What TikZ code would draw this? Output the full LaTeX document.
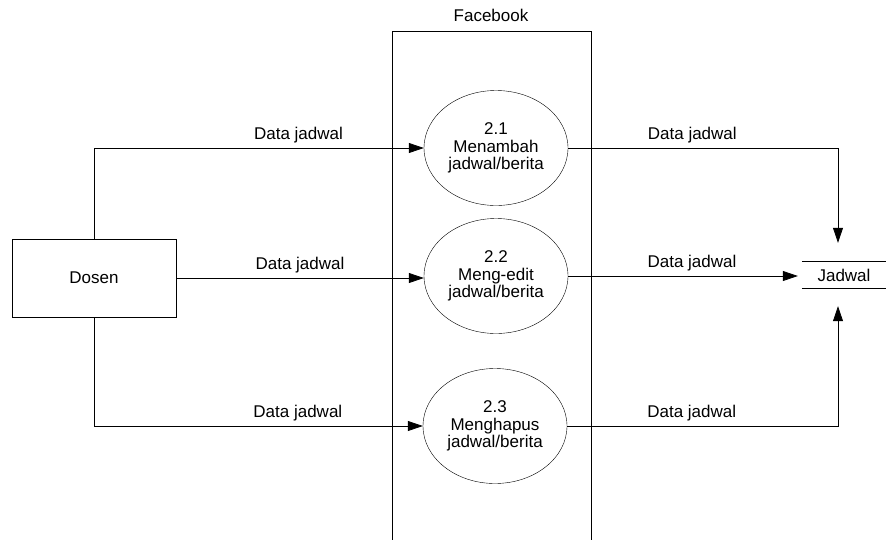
\documentclass[tikz,border=0pt]{standalone}
\usepackage{fontspec}
\setmainfont{Liberation Sans}
\usetikzlibrary{arrows.meta, positioning, shapes.geometric, calc}

\begin{document}
\begin{tikzpicture}[
    x=1pt, y=-1pt,
    every node/.style={font=\fontsize{17}{17.5}\selectfont},
    entity/.style={draw, minimum width=164pt, minimum height=78pt, inner sep=0pt},
    process/.style={draw, ellipse, minimum width=144pt, minimum height=115pt, inner sep=0pt, align=center},
    store/.style={minimum width=84pt, minimum height=26pt, inner sep=0pt},
    flowlabel/.style={above=1pt},
    arrow/.style={-{Triangle[length=15pt, width=10pt]}, line width=0.7pt},
]
\useasboundingbox (0,0) rectangle (886,539);

% Boundary
\draw[line width=0.7pt] (392,31) rectangle (591,560);
\node (fb) at (491,15) {Facebook};

% External entity
\node[entity] (dosen) at (94,278) {Dosen};

% Processes
\node[process] (p1) at (496,148) {2.1\\Menambah\\jadwal/berita};
\node[process] (p2) at (496,276) {2.2\\Meng-edit\\jadwal/berita};
\node[process] (p3) at (495,426) {2.3\\Menghapus\\jadwal/berita};

% Data store
\node[store] (jadwal) at (844,275) {\raisebox{-3pt}{Jadwal}};
\draw[line width=0.7pt] (jadwal.north west) -- (jadwal.north east);
\draw[line width=0.7pt] (jadwal.south west) -- (jadwal.south east);

% Flows from Dosen
\draw[arrow] (dosen.north) |- (p1) node[flowlabel, pos=0.81] {Data jadwal};
\draw[arrow] (dosen.east) -- (dosen.east -| p2.west) node[flowlabel, midway] {Data jadwal};
\draw[arrow] (dosen.south) |- (p3) node[flowlabel, pos=0.81] {Data jadwal};

% Flows to Jadwal
\draw[arrow, shorten >=19pt] (p1.east) -| ([xshift=-6pt]jadwal.north) node[flowlabel, pos=0.23] {Data jadwal};
\draw[arrow, shorten >=4pt] (p2.east) -- (p2.east -| jadwal.west) node[flowlabel, pos=0.53] {Data jadwal};
\draw[arrow, shorten >=18pt] (p3.east) -| ([xshift=-6pt]jadwal.south) node[flowlabel, pos=0.23] {Data jadwal};

\end{tikzpicture}
\end{document}
